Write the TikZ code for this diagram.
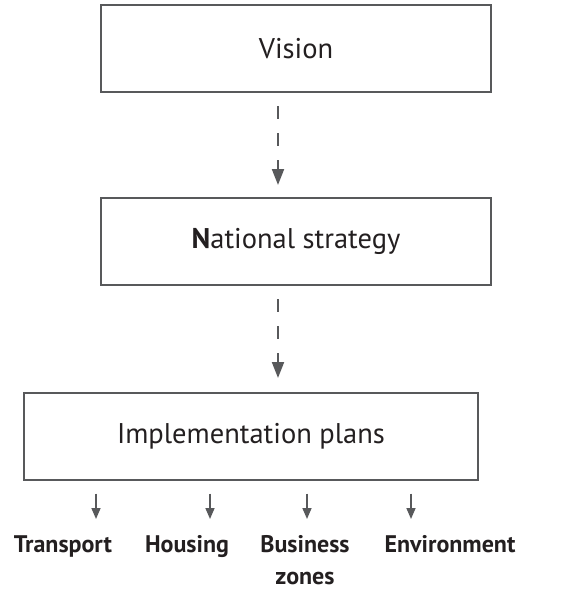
\documentclass[tikz,border=0pt]{standalone}
\usepackage{fontspec}
\setmainfont{PT Sans}
\usetikzlibrary{arrows.meta, positioning}
\definecolor{linegray}{RGB}{88,89,91}
\definecolor{textdark}{RGB}{35,31,32}

\begin{document}
\begin{tikzpicture}[x=1pt, y=-1pt,
  box/.style={draw=linegray, line width=2pt, minimum height=87pt, inner sep=0pt,
    font=\fontsize{28.5}{32}\selectfont, text=textdark},
  dasharrow/.style={draw=linegray, line width=2pt, dash pattern=on 13pt off 14pt,
    -{Triangle[length=16pt,width=12pt]}, shorten <=13pt},
  subarrow/.style={draw=linegray, line width=1.6pt,
    -{Triangle[length=11pt,width=9pt]}, shorten <=13pt},
  area/.style={font=\bfseries\fontsize{24}{32}\selectfont, text=textdark,
    align=center, anchor=north, inner sep=0pt}]
\useasboundingbox (0,0) rectangle (584,592);

% Levels
\node[box, minimum width=390pt] (vision) at (296,48.5) {Vision};
\node[box, minimum width=390pt] (strategy) at (296,241.5) {{\bfseries N}ational strategy};
\node[box, minimum width=454pt] (plans) at (251,436) {Implementation plans};

% Dashed links
\coordinate (d1) at (278,185);
\coordinate (d2) at (278,378);
\draw[dasharrow] (vision.south -| d1) -- (d1);
\draw[dasharrow] (strategy.south -| d2) -- (d2);

% Areas
\node[area] (transport) at (63,535) {Transport};
\node[area] (housing) at (187,535) {Housing};
\node[area] (business) at (305,535) {Business\\zones};
\node[area] (environment) at (450,535) {Environment};

\coordinate (t1) at (96,519);
\coordinate (t2) at (210,519);
\coordinate (t3) at (307,519);
\coordinate (t4) at (411,519);
\foreach \t in {t1,t2,t3,t4}
  \draw[subarrow] (plans.south -| \t) -- (\t);
\end{tikzpicture}
\end{document}
